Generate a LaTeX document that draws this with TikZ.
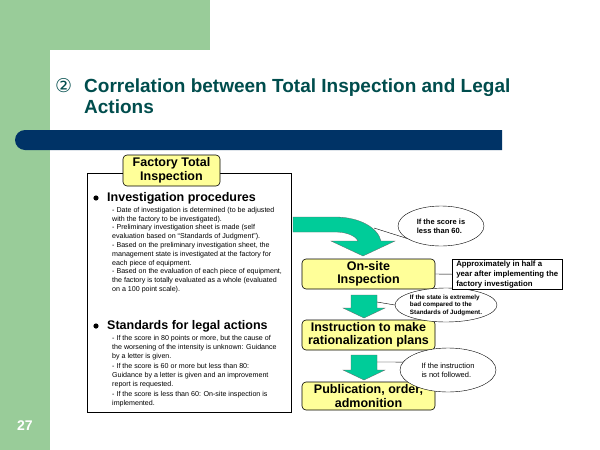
\documentclass[tikz,border=0pt]{standalone}
\usepackage{fontspec}
\setmainfont{Liberation Sans}
\newfontfamily\dejavu{DejaVu Sans}
\usetikzlibrary{shapes.geometric}
\definecolor{pgreen}{HTML}{99CC99}
\definecolor{navy}{HTML}{003366}
\definecolor{teal}{HTML}{004D4D}
\definecolor{yel}{HTML}{FFFF99}
\definecolor{arr}{HTML}{00CC99}
\begin{document}
\begin{tikzpicture}[x=1pt,y=-1pt,
  ybox/.style={draw,fill=yel,rounded corners=4pt,line width=0.6pt,align=center,font=\bfseries\fontsize{12.5}{13.5}\selectfont,inner sep=0pt},
  callout/.style={draw,fill=white,ellipse,align=left,font=\fontsize{7.5}{9}\selectfont,inner sep=0pt},
  sub/.style={anchor=north west,align=left,inner sep=0pt},
  head/.style={anchor=west,font=\bfseries\fontsize{12.5}{13}\selectfont,inner sep=0pt},
  garr/.style={fill=arr,draw=black!60,line width=0.3pt}]
\useasboundingbox (0,0) rectangle (600,450);
\fill[pgreen] (0,0) rectangle (210,50);
\fill[pgreen] (0,0) rectangle (50,450);
\fill[white,rounded corners=15pt] (50,450) -- (50,50) -- (230,50) [sharp corners] -- (230,51) -- (600,51) -- (600,450) -- cycle;
\fill[white] (210,0) rectangle (600,51);
\fill[navy,rounded corners=10pt] (502,130) -- (15,130) -- (15,150) [sharp corners] -- (502,150) -- cycle;
\node[anchor=base west,text=teal,font=\dejavu\fontsize{19}{20}\selectfont,inner sep=0pt] (num) at (55,92) {②};
\node[anchor=base west,text=teal,align=left,font=\bfseries\fontsize{19}{21}\selectfont,inner sep=0pt] (title) at (84,113) {Correlation between Total Inspection and Legal\\Actions};
\node[text=white,font=\bfseries\fontsize{14}{14}\selectfont] (pg) at (25,426) {27};
% left box
\node[draw,line width=0.6pt,minimum width=204pt,minimum height=239pt,anchor=north west,inner sep=0pt] (lbox) at (87,173) {};
\node[ybox,minimum width=97pt,minimum height=31pt] (fti) at (171.5,170.5) {Factory Total\\Inspection};
\fill (96,198) circle (2.6pt);
\node[head] (h1) at (107,198) {Investigation procedures};
\node[sub,font=\fontsize{7.1}{8.8}\selectfont] (s1) at (112,207) {- Date of investigation is determined (to be adjusted\\with the factory to be investigated).\\- Preliminary investigation sheet is made (self\\evaluation based on ``Standards of Judgment'').\\- Based on the preliminary investigation sheet, the\\management state is investigated at the factory for\\each piece of equipment.\\- Based on the evaluation of each piece of equipment,\\the factory is totally evaluated as a whole (evaluated\\on a 100 point scale).};
\fill (96,326) circle (2.6pt);
\node[head] (h2) at (107,326) {Standards for legal actions};
\node[sub,font=\fontsize{7.1}{9.3}\selectfont] (s2) at (112,335) {- If the score in 80 points or more, but the cause of\\the worsening of the intensity is unknown: Guidance\\by a letter is given.\\- If the score is 60 or more but less than 80:\\Guidance by a letter is given and an improvement\\report is requested.\\- If the score is less than 60: On-site inspection is\\implemented.};
% right flow
\node[ybox,minimum width=133pt,minimum height=30pt] (b1) at (368.5,274) {On-site\\Inspection};
\node[ybox,minimum width=133pt,minimum height=30pt] (b2) at (368.5,335) {Instruction to make\\rationalization plans};
\node[ybox,minimum width=133pt,minimum height=28pt] (b3) at (368.5,396) {Publication, order,\\admonition};
\draw[garr] (293,217) -- (335,217) .. controls (360,217) and (378,228) .. (381,241) -- (395,241) -- (363,256) -- (331,241) -- (358,241) .. controls (355,235) and (345,232) .. (335,232) -- (293,232) -- cycle;
\draw[garr] (351,295) -- (377,295) -- (377,308) -- (385,308) -- (364,318) -- (343,308) -- (351,308) -- cycle;
\draw[garr] (351,355) -- (377,355) -- (377,370) -- (385,370) -- (364,380) -- (343,370) -- (351,370) -- cycle;
\coordinate (t1) at (374,228);
\coordinate (t2) at (377,302);
\coordinate (t3) at (377,362);
\node[callout,minimum width=86pt,minimum height=40pt] (c1) at (441,226) {\bfseries If the score is\\\bfseries less than 60.};
\draw (t1) -- (c1.200);
\node[callout,minimum width=96pt,minimum height=34pt,font=\fontsize{6.3}{7.5}\selectfont] (c2) at (446,305) {\bfseries If the state is extremely\\\bfseries bad compared to the\\\bfseries Standards of Judgment.};
\draw (t2) -- (c2.west);
\node[callout,minimum width=96pt,minimum height=44pt] (c3) at (448,370) {If the instruction\\is not followed.};
\draw (t3) -- (c3.170);
\node[draw,fill=white,anchor=north west,minimum width=110pt,minimum height=30pt,inner sep=0.5pt,align=left,font=\bfseries\fontsize{7.8}{9.8}\selectfont] (c4) at (452,259) {Approximately in half a\\year after implementing the\\factory investigation};
\draw (b1.east) -- (c4.west);
\end{tikzpicture}
\end{document}
